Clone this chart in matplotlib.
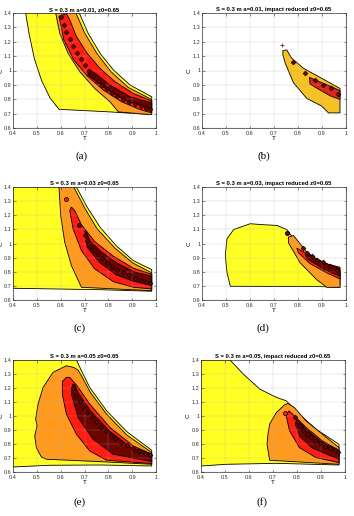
import matplotlib
matplotlib.use('Agg')
import matplotlib.pyplot as plt
from matplotlib.ticker import FuncFormatter

plt.rcParams['font.family'] = ['Liberation Sans', 'DejaVu Sans']

# contour regions, (T, C) vertices

# (a) a=0.01
a_yellow = [(0.453, 1.40), (0.468, 1.25), (0.49, 1.08), (0.52, 0.93), (0.555, 0.81),
            (0.593, 0.73), (0.807, 0.712), (0.982, 0.693), (0.982, 0.817), (0.891, 0.899),
            (0.821, 1.004), (0.765, 1.12), (0.715, 1.26), (0.678, 1.40)]
a_orange = [(0.579, 1.40), (0.596, 1.26), (0.631, 1.12), (0.68, 0.992), (0.743, 0.875),
            (0.807, 0.782), (0.842, 0.712), (0.982, 0.693), (0.982, 0.798), (0.884, 0.882),
            (0.811, 0.992), (0.753, 1.116), (0.701, 1.26), (0.664, 1.40)]
a_red = [(0.593, 1.377), (0.613, 1.213), (0.655, 1.074), (0.711, 0.962), (0.779, 0.864),
         (0.856, 0.782), (0.933, 0.728), (0.982, 0.705), (0.982, 0.789), (0.905, 0.84),
         (0.828, 0.922), (0.765, 1.015), (0.711, 1.12), (0.666, 1.237), (0.638, 1.353),
         (0.624, 1.395)]
a_dark = [(0.715, 0.969), (0.793, 0.868), (0.877, 0.787), (0.982, 0.735), (0.982, 0.775),
          (0.891, 0.817), (0.807, 0.899), (0.736, 0.992), (0.715, 1.004)]
a_spots = [(0.603, 1.37), (0.613, 1.32), (0.624, 1.27), (0.638, 1.22), (0.652, 1.17),
           (0.668, 1.125), (0.684, 1.08), (0.70, 1.04), (0.718, 1.0), (0.736, 0.965),
           (0.755, 0.93), (0.775, 0.90), (0.795, 0.87), (0.815, 0.845), (0.838, 0.82),
           (0.86, 0.80), (0.885, 0.78), (0.91, 0.765), (0.935, 0.75), (0.96, 0.74),
           (0.975, 0.735)]

# (b) a=0.01, impact reduced
b_gold = [(0.737, 1.139), (0.753, 1.143), (0.774, 1.085), (0.823, 1.015), (0.892, 0.952),
          (0.975, 0.875), (0.975, 0.705), (0.927, 0.705), (0.899, 0.752), (0.837, 0.805),
          (0.781, 0.915), (0.747, 1.05), (0.737, 1.108)]
b_red = [(0.848, 0.952), (0.892, 0.92), (0.934, 0.892), (0.975, 0.859), (0.975, 0.798),
         (0.934, 0.824), (0.892, 0.864), (0.85, 0.906)]
b_spots = [(0.778, 1.057), (0.83, 0.98), (0.871, 0.934), (0.906, 0.899), (0.936, 0.875),
           (0.968, 0.84)]
b_plus = [(0.734, 1.178)]

# (c) a=0.03
c_yellow = [(0.4, 1.4), (0.666, 1.4), (0.711, 1.258), (0.765, 1.116), (0.835, 0.981),
            (0.905, 0.879), (0.982, 0.815), (0.982, 0.662), (0.765, 0.673), (0.4, 0.683)]
c_orange = [(0.593, 1.4), (0.6, 1.199), (0.617, 1.009), (0.645, 0.844), (0.687, 0.69),
            (0.982, 0.666), (0.982, 0.792), (0.902, 0.863), (0.828, 0.967), (0.753, 1.104),
            (0.701, 1.251), (0.655, 1.4)]
c_red = [(0.638, 1.234), (0.652, 1.104), (0.687, 0.95), (0.743, 0.82), (0.821, 0.73),
         (0.905, 0.69), (0.982, 0.678), (0.982, 0.782), (0.905, 0.825), (0.821, 0.91),
         (0.743, 1.014), (0.687, 1.133), (0.659, 1.234), (0.645, 1.258)]
c_dark = [(0.701, 1.092), (0.711, 0.974), (0.765, 0.863), (0.835, 0.777), (0.905, 0.733),
          (0.982, 0.702), (0.982, 0.768), (0.905, 0.801), (0.835, 0.863), (0.772, 0.938),
          (0.722, 1.021), (0.705, 1.092)]
c_red_blobs = [(0.624, 1.312)]
c_dark_blobs = [(0.678, 1.128)]
c_spots = [(0.703, 1.06), (0.712, 1.02), (0.725, 0.985), (0.74, 0.955), (0.757, 0.925),
           (0.775, 0.895), (0.795, 0.865), (0.815, 0.84), (0.837, 0.815), (0.86, 0.795),
           (0.885, 0.775), (0.91, 0.757), (0.935, 0.742), (0.96, 0.73), (0.975, 0.722)]

# (d) a=0.03, impact reduced
d_yellow = [(0.518, 0.697), (0.504, 0.796), (0.497, 0.915), (0.504, 1.033), (0.532, 1.099),
            (0.601, 1.14), (0.656, 1.133), (0.712, 1.128), (0.753, 1.099), (0.809, 0.974),
            (0.878, 0.879), (0.975, 0.808), (0.975, 0.69), (0.892, 0.695)]
d_orange = [(0.760, 1.045), (0.781, 1.057), (0.837, 0.938), (0.906, 0.856), (0.975, 0.796),
            (0.975, 0.69), (0.92, 0.69), (0.878, 0.744), (0.809, 0.863), (0.760, 1.005)]
d_red = [(0.795, 0.967), (0.85, 0.915), (0.92, 0.856), (0.975, 0.832), (0.975, 0.749),
         (0.92, 0.792), (0.85, 0.858), (0.802, 0.934)]
d_dark = [(0.83, 0.927), (0.906, 0.867), (0.975, 0.82), (0.975, 0.768), (0.906, 0.82),
          (0.839, 0.891)]
d_dark_blobs = [(0.753, 1.076)]
d_spots = [(0.82, 0.967), (0.839, 0.931), (0.857, 0.91), (0.878, 0.886), (0.906, 0.867),
           (0.934, 0.844), (0.961, 0.815)]

# (e) a=0.05
e_yellow = [(0.4, 1.4), (0.666, 1.4), (0.687, 1.324), (0.722, 1.204), (0.793, 1.037),
            (0.877, 0.889), (0.982, 0.755), (0.982, 0.643), (0.765, 0.65), (0.554, 0.648),
            (0.4, 0.636)]
e_orange = [(0.655, 1.347), (0.624, 1.359), (0.568, 1.312), (0.526, 1.204), (0.505, 1.085),
            (0.495, 0.977), (0.501, 0.93), (0.491, 0.858), (0.498, 0.774), (0.519, 0.707),
            (0.54, 0.691), (0.765, 0.674), (0.982, 0.655), (0.982, 0.739), (0.877, 0.865),
            (0.793, 1.013), (0.725, 1.168), (0.687, 1.288), (0.673, 1.328)]
e_red = [(0.624, 1.276), (0.607, 1.247), (0.607, 1.156), (0.624, 1.013), (0.666, 0.87),
         (0.722, 0.75), (0.793, 0.684), (0.982, 0.66), (0.982, 0.727), (0.905, 0.786),
         (0.807, 0.918), (0.722, 1.085), (0.669, 1.216), (0.638, 1.276)]
e_dark = [(0.65, 1.228), (0.645, 1.156), (0.673, 0.989), (0.736, 0.834), (0.821, 0.727),
          (0.982, 0.674), (0.982, 0.731), (0.891, 0.779), (0.807, 0.889), (0.725, 1.037),
          (0.673, 1.168), (0.659, 1.223)]
e_spots = [(0.652, 1.2), (0.665, 1.145), (0.68, 1.105), (0.695, 1.065), (0.712, 1.03),
           (0.73, 0.995), (0.75, 0.96), (0.77, 0.925), (0.79, 0.895), (0.81, 0.865),
           (0.83, 0.84), (0.855, 0.815), (0.88, 0.79), (0.905, 0.77), (0.93, 0.75),
           (0.955, 0.735), (0.975, 0.72)]

# (f) a=0.05, impact reduced
f_yellow = [(0.4, 1.4), (0.521, 1.4), (0.576, 1.3), (0.645, 1.192), (0.714, 1.133),
            (0.755, 1.109), (0.81, 1.013), (0.879, 0.906), (0.975, 0.798), (0.975, 0.65),
            (0.714, 0.662), (0.507, 0.655), (0.4, 0.643)]
f_orange = [(0.686, 0.942), (0.679, 0.87), (0.675, 0.798), (0.686, 0.684), (0.975, 0.655),
            (0.975, 0.774), (0.906, 0.87), (0.838, 0.965), (0.789, 1.061), (0.762, 1.09),
            (0.748, 1.08), (0.714, 1.025)]
f_red = [(0.766, 1.037), (0.755, 1.001), (0.769, 0.894), (0.81, 0.774), (0.879, 0.703),
         (0.975, 0.667), (0.975, 0.755), (0.906, 0.822), (0.838, 0.918), (0.789, 1.001)]
f_dark = [(0.799, 0.977), (0.793, 0.942), (0.813, 0.851), (0.865, 0.77), (0.975, 0.691),
          (0.975, 0.75), (0.906, 0.81), (0.838, 0.906)]
f_red_blobs = [(0.748, 1.025)]
f_spots = [(0.79, 0.99), (0.80, 0.96), (0.812, 0.93), (0.825, 0.9), (0.84, 0.875),
           (0.858, 0.85), (0.877, 0.825), (0.897, 0.805), (0.917, 0.787), (0.937, 0.77),
           (0.957, 0.755), (0.972, 0.745)]

titles = ['S = 0.3 m a=0.01, z0=0.65',
          'S = 0.3 m a=0.01, impact reduced z0=0.65',
          'S = 0.3 m a=0.03 z0=0.65',
          'S = 0.3 m a=0.03, impact reduced z0=0.65',
          'S = 0.3 m a=0.05 z0=0.65',
          'S = 0.3 m a=0.05, impact reduced z0=0.65']
captions = ['(a)', '(b)', '(c)', '(d)', '(e)', '(f)']
x_ticks = [0.4, 0.5, 0.6, 0.7, 0.8, 0.9, 1.0]
y_ticks = [0.6, 0.7, 0.8, 0.9, 1.0, 1.1, 1.2, 1.3, 1.4]

YELLOW = '#ffff24'
GOLD = '#f6c224'
ORANGE = '#ff9a1e'
RED = '#ff1d12'
BRED = '#e0261a'
DARK = '#6e0400'

panels = [
    dict(regions=[(a_yellow, YELLOW), (a_orange, ORANGE), (a_red, RED), (a_dark, DARK)],
         spots=a_spots, blobs=[]),
    dict(regions=[(b_gold, GOLD), (b_red, BRED)],
         spots=b_spots, blobs=[(b_plus, DARK, '+')]),
    dict(regions=[(c_yellow, YELLOW), (c_orange, ORANGE), (c_red, RED), (c_dark, DARK)],
         spots=c_spots, blobs=[(c_red_blobs, RED, 'o'), (c_dark_blobs, DARK, 'o')]),
    dict(regions=[(d_yellow, YELLOW), (d_orange, ORANGE), (d_red, RED), (d_dark, DARK)],
         spots=d_spots, blobs=[(d_dark_blobs, DARK, 'o')]),
    dict(regions=[(e_yellow, YELLOW), (e_orange, ORANGE), (e_red, RED), (e_dark, DARK)],
         spots=e_spots, blobs=[]),
    dict(regions=[(f_yellow, YELLOW), (f_orange, ORANGE), (f_red, RED), (f_dark, DARK)],
         spots=f_spots, blobs=[(f_red_blobs, RED, 'o')]),
]

W, H = 354, 516
# axes boxes in pixels: left, top, right, bottom
boxes = [(13, 13, 156, 128), (202, 13, 346, 128),
         (13, 187, 156, 300), (202, 187, 346, 300),
         (13, 360, 156, 472), (201, 360, 345, 472)]
cap_xy = [(82, 156), (264, 156), (80, 328), (263, 328), (80, 502), (262, 502)]

fig = plt.figure(figsize=(W / 100, H / 100), dpi=100)
fmt = FuncFormatter(lambda v, p: '%g' % round(v, 2))

for i, p in enumerate(panels):
    l, t, r, b = boxes[i]
    ax = fig.add_axes([l / W, 1 - b / H, (r - l) / W, (b - t) / H])
    for poly, col in p['regions']:
        ax.fill([q[0] for q in poly], [q[1] for q in poly], facecolor=col,
                edgecolor='k', lw=0.6, zorder=2)
    for pts, col, mk in p['blobs']:
        ax.scatter([q[0] for q in pts], [q[1] for q in pts], marker=mk, s=9,
                   c=col, edgecolors='k', linewidths=0.5, zorder=4)
    ax.scatter([q[0] for q in p['spots']], [q[1] for q in p['spots']], marker='D', s=6,
               c='#7a0000', edgecolors='k', linewidths=0.45, zorder=5)
    ax.set_xlim(0.4, 1.0)
    ax.set_ylim(0.6, 1.4)
    ax.set_xticks(x_ticks)
    ax.set_yticks(y_ticks)
    ax.xaxis.set_major_formatter(fmt)
    ax.yaxis.set_major_formatter(fmt)
    ax.grid(True, color='#b0b0b0', lw=0.35, alpha=0.5, zorder=3)
    ax.set_axisbelow(False)
    ax.tick_params(direction='in', length=1.8, width=0.4, labelsize=4,
                   top=True, right=True, colors='#333333', labelcolor='#333333')
    ax.tick_params(axis='x', pad=2.0)
    ax.tick_params(axis='y', pad=1.0)
    for s in ax.spines.values():
        s.set_linewidth(0.5)
        s.set_color('#333333')
        s.set_zorder(6)
    ax.set_title(titles[i], fontsize=4.2, fontweight='bold', pad=1.5)
    ax.set_xlabel('T', fontsize=4.5, labelpad=0.3)
    ax.set_ylabel('C', fontsize=4.5, labelpad=0.2 if l < 100 else 1)
    cx, cy = cap_xy[i]
    fig.text(cx / W, 1 - cy / H, captions[i], ha='center', va='center', fontsize=8,
             family='Liberation Serif')

plt.savefig('out.png', dpi=100)
